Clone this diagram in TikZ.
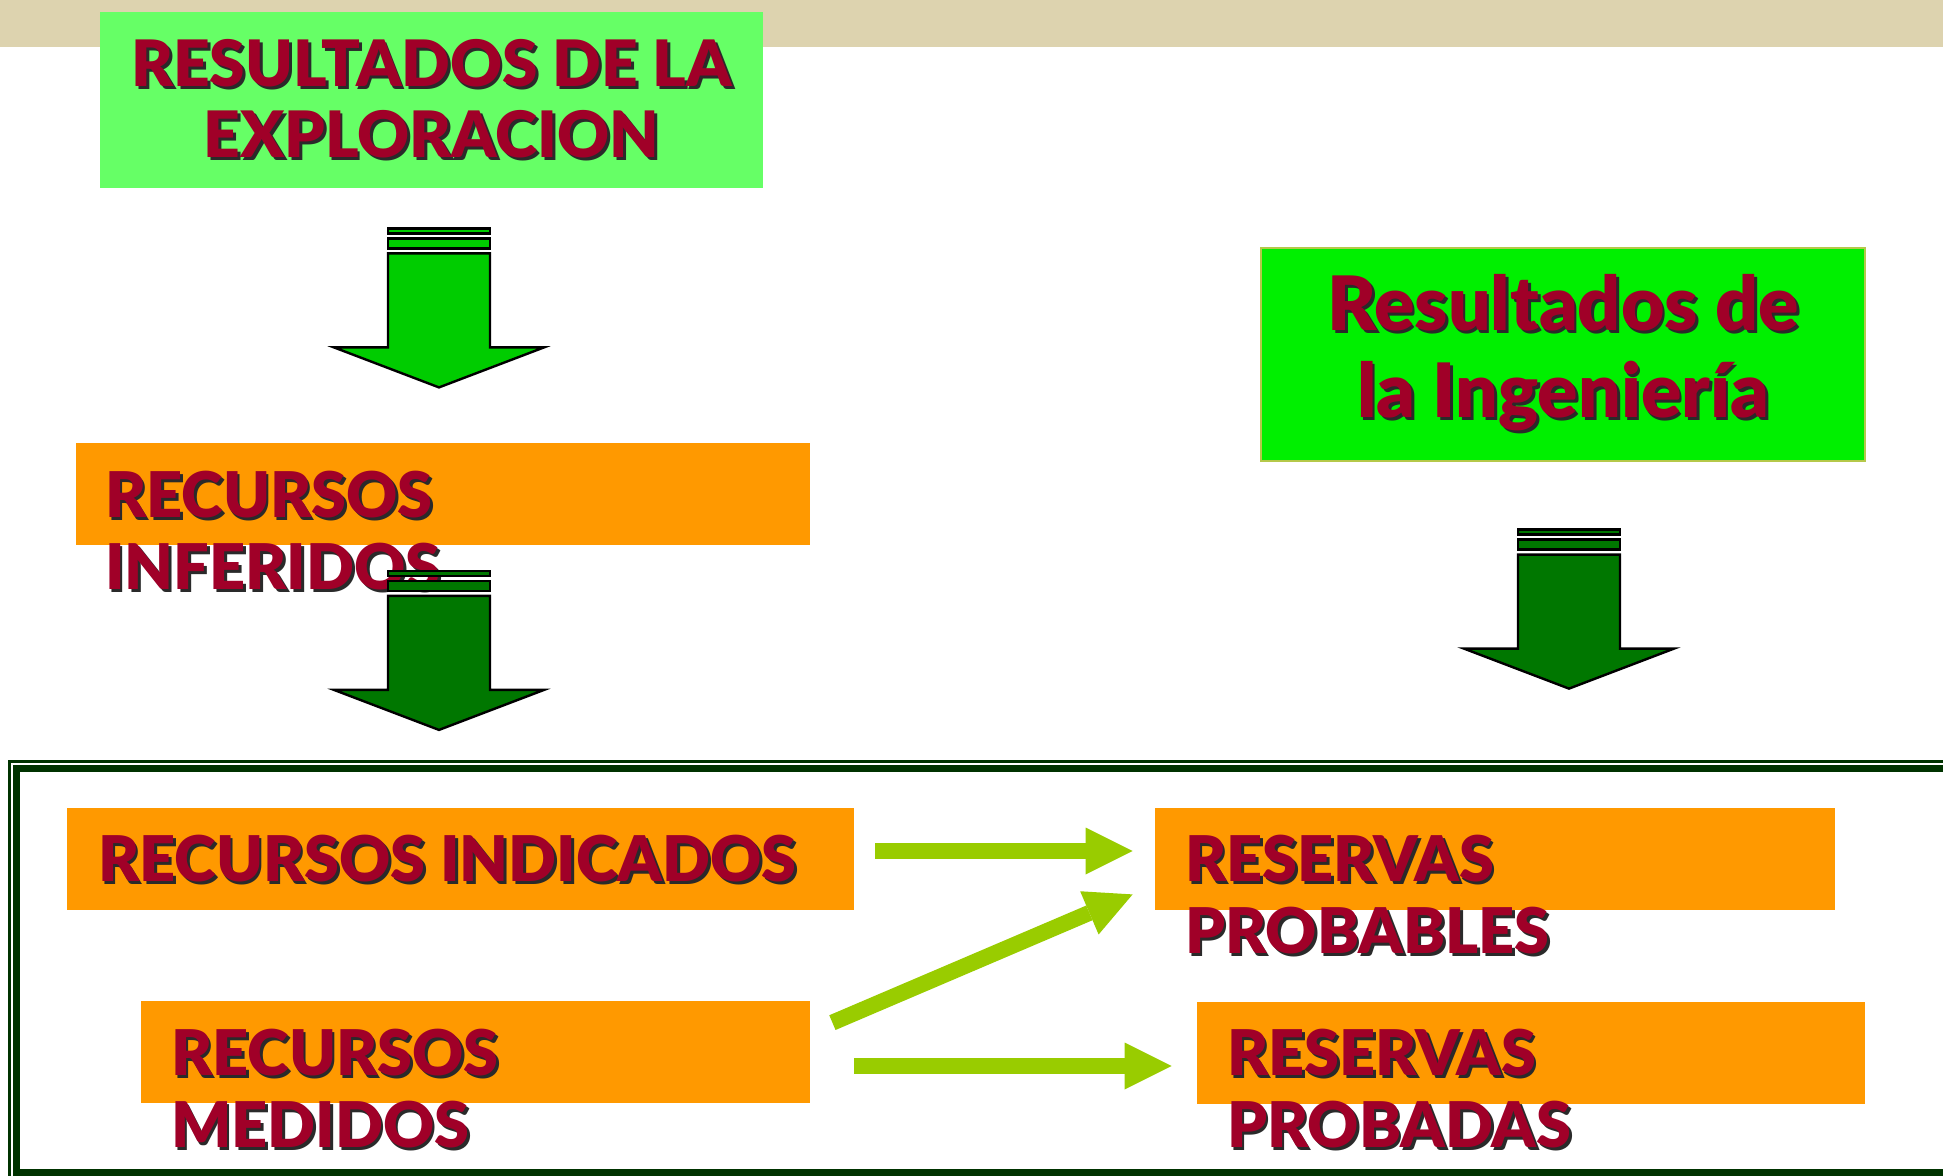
\documentclass[tikz,border=0pt]{standalone}
\usepackage{fontspec}
\setmainfont{Lato}[BoldFont={Lato Black}]
\usetikzlibrary{arrows.meta,calc}

\definecolor{bandc}{HTML}{DDD3AF}
\definecolor{lightgreen}{HTML}{66FF66}
\definecolor{brightgreen}{HTML}{00F000}
\definecolor{boxedge}{HTML}{B5C84A}
\definecolor{orangec}{HTML}{FF9900}
\definecolor{textred}{HTML}{A00028}
\definecolor{shadowc}{HTML}{2A2A2A}
\definecolor{arrgreen}{HTML}{00CC00}
\definecolor{arrdark}{HTML}{007700}
\definecolor{limec}{HTML}{99CC00}
\definecolor{framec}{HTML}{003300}

\newcommand{\shd}[1]{\makebox[0pt][l]{\kern1.4pt\raisebox{-1.4pt}{\color{shadowc}#1}}#1}

\tikzset{
  obox/.style={fill=orangec, inner sep=0pt, minimum height=51pt},
  lbl/.style={inner sep=0pt, text=textred, font=\bfseries\fontsize{31.5}{36}\selectfont,
    align=left, anchor=west},
  limearr/.style={draw=limec, line width=8pt,
    -{Triangle[length=23.5pt, width=23.5pt, line width=0pt]}},
  downarr/.pic={
    \filldraw (-51,0) rectangle (51,5);
    \filldraw (-51,10) rectangle (51,20);
    \filldraw (-51,25) -- (51,25) -- (51,119) -- (105,119) -- (0,159)
      -- (-105,119) -- (-51,119) -- cycle;
  }
}

\begin{document}
\begin{tikzpicture}[x=0.5pt, y=-0.5pt]
  \useasboundingbox (0,0) rectangle (1943,1175);
  \clip (0,0) rectangle (1943,1175);
  \fill[bandc] (0,0) rectangle (1943,47);

  % double frame round the lower part
  \draw[framec, line width=1.5pt] (9.5,761) rectangle (1990,1200);
  \draw[framec, line width=3.5pt] (16.5,768) rectangle (1980,1172);

  \node[fill=lightgreen, inner sep=0pt, minimum width=331.5pt, minimum height=88pt,
    text=textred, align=center, font=\bfseries\fontsize{32}{35.5}\selectfont]
    (explo) at (431.5,100) {\shd{RESULTADOS DE LA}\\\shd{EXPLORACION}};
  \node[fill=brightgreen, draw=boxedge, line width=0.6pt, inner sep=0pt,
    minimum width=302pt, minimum height=106.5pt,
    text=textred, align=center, font=\bfseries\fontsize{37.5}{43.5}\selectfont]
    (inge) at (1563,354.5) {\shd{Resultados de}\\\shd{la Ingeniería}};

  \node[obox, minimum width=367pt] (inferidos) at (443,493.5) {};
  \node[lbl] (inferidostxt) at ($(inferidos.west)+(29,38.5)$) {\shd{RECURSOS}\\\shd{INFERIDOS}};

  \pic[fill=arrgreen, line width=1.2pt] at ($(explo.south)+(7.5,40)$) {downarr};
  \pic[fill=arrdark, line width=1.2pt] at ($(inferidos.south)+(-4,26)$) {downarr};
  \pic[fill=arrdark, line width=1.2pt] at ($(inge.south)+(6,68)$) {downarr};

  \node[obox, minimum width=393.5pt] (indicados) at (460.5,859) {};
  \node[lbl] (indicadostxt) at ($(indicados.west)+(31,1)$) {\shd{RECURSOS INDICADOS}};
  \node[obox, minimum width=334.5pt] (medidos) at (475.5,1052) {};
  \node[lbl] (medidostxt) at ($(medidos.west)+(30,38)$) {\shd{RECURSOS}\\\shd{MEDIDOS}};
  \node[obox, minimum width=340pt] (probables) at (1495,859) {};
  \node[lbl] (probablestxt) at ($(probables.west)+(30,37)$) {\shd{RESERVAS}\\\shd{PROBABLES}};
  \node[obox, minimum width=334pt] (probadas) at (1531,1053) {};
  \node[lbl] (probadastxt) at ($(probadas.west)+(30,37)$) {\shd{RESERVAS}\\\shd{PROBADAS}};

  \draw[limearr] ($(indicados.east)+(21,-8)$) -- ($(probables.west)+(-22,-8)$);
  \draw[limearr] ($(medidos.north east)+(22,22)$) -- ($(probables.south west)+(-22,-16)$);
  \draw[limearr] ($(medidos.east)+(44,14)$) -- ($(probadas.west)+(-25,13)$);
\end{tikzpicture}
\end{document}
